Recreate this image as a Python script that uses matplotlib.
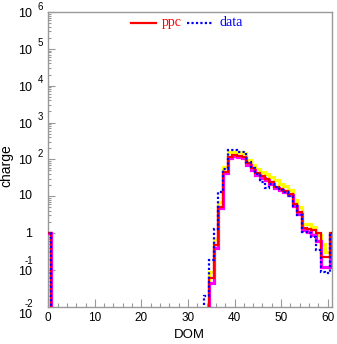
import numpy as np
import matplotlib
matplotlib.use("Agg")
import matplotlib.pyplot as plt
from matplotlib.ticker import FixedLocator, NullFormatter

# DOM number on the string (bins centred on integers)
dom = np.arange(0, 62)

def series(nonzero):
    v = np.zeros(len(dom))
    v[0] = 1.0
    for k, val in nonzero.items():
        v[k] = val
    return v

# ppc simulation (red)
ppc = series({35: 0.06, 36: 0.47, 37: 5.2, 38: 44, 39: 118, 40: 131, 41: 123,
              42: 118, 43: 78, 44: 58, 45: 42, 46: 35, 47: 29, 48: 24, 49: 18,
              50: 16, 51: 14, 52: 11.5, 53: 6.1, 54: 3.7, 55: 1.4, 56: 1.3,
              57: 1.2, 58: 1.0, 59: 0.22, 60: 0.22, 61: 1.0})
# measured data (blue dotted)
data = series({34: 0.02, 35: 0.19, 36: 1.3, 37: 13, 38: 55, 39: 180, 40: 180,
               41: 155, 42: 160, 43: 87, 44: 60, 45: 40, 46: 24, 47: 17, 48: 22,
               49: 18, 50: 15, 51: 13, 52: 10, 53: 5.5, 54: 3.0, 55: 1.1,
               56: 1.0, 57: 0.8, 58: 0.35, 59: 0.085, 60: 0.08, 61: 1.0})
# companion variants (yellow, magenta)
var_y = series({35: 0.09, 36: 0.7, 37: 7, 38: 63, 39: 160, 40: 160, 41: 155,
                42: 150, 43: 95, 44: 72, 45: 55, 46: 46, 47: 40, 48: 33, 49: 27,
                50: 22, 51: 19, 52: 15, 53: 8, 54: 5, 55: 1.8, 56: 1.8, 57: 1.5,
                58: 0.9, 59: 0.5, 60: 0.3, 61: 1.0})
var_m = series({35: 0.045, 36: 0.4, 37: 4.8, 38: 42, 39: 110, 40: 120, 41: 115,
                42: 110, 43: 72, 44: 52, 45: 38, 46: 32, 47: 27, 48: 22, 49: 17,
                50: 15, 51: 13, 52: 10.5, 53: 5.5, 54: 3.3, 55: 1.2, 56: 1.05,
                57: 0.9, 58: 0.6, 59: 0.12, 60: 0.12, 61: 0.9})

y_exponents = [-2, -1, 0, 1, 2, 3, 4, 5, 6]
x_ticks = [0, 10, 20, 30, 40, 50, 60]
legend_labels = ["ppc", "data"]

W, H = 337, 344
fig = plt.figure(figsize=(W / 100, H / 100), dpi=100)
ax = fig.add_axes([48.3 / W, 1 - 306.7 / H, (332.3 - 48.3) / W, (306.7 - 12) / H])

edges = np.append(dom - 0.5, dom[-1] + 0.5)
floor = 1e-9

def draw(v, **kw):
    ax.stairs(np.where(v > 0, v, floor), edges, baseline=None, **kw)

draw(var_y, color="#ffff00", lw=2.3, zorder=2)
draw(var_m, color="#ff00ff", lw=2.3, zorder=3)
draw(ppc, color="#ff0000", lw=1.6, zorder=4)
draw(data, color="#0000ff", lw=1.6, ls=(0, (1, 1)), zorder=5)

ax.set_yscale("log")
ax.set_ylim(1e-2, 1e6)
ax.set_xlim(0, 61)

frame = "#999999"
for s in ax.spines.values():
    s.set_color(frame)
    s.set_linewidth(1.0)

ax.xaxis.set_major_locator(FixedLocator(x_ticks))
ax.xaxis.set_minor_locator(FixedLocator(np.arange(0, 61, 2)))
ax.yaxis.set_major_locator(FixedLocator([10.0 ** e for e in y_exponents]))
minor_y = [m * 10.0 ** e for e in y_exponents[:-1] for m in range(2, 10)]
ax.yaxis.set_minor_locator(FixedLocator(minor_y))
ax.yaxis.set_major_formatter(NullFormatter())
ax.yaxis.set_minor_formatter(NullFormatter())
ax.tick_params(which="both", direction="in", color=frame, width=0.8,
               top=False, right=False)
ax.tick_params(axis="x", which="major", length=6, labelsize=8.5, pad=4)
ax.tick_params(axis="x", which="minor", length=3)
ax.tick_params(axis="y", which="major", length=5)
ax.tick_params(axis="y", which="minor", length=2.5)
for lab in ax.get_xticklabels():
    lab.set_family("Liberation Sans")

sans = "Liberation Sans"
tk = dict(xycoords=("axes fraction", "data"), textcoords="offset pixels",
          family=sans, fontsize=9, va="center")
for e in y_exponents:
    v = 10.0 ** e
    if e == 0:
        ax.annotate("1", xy=(0, v), xytext=(-16, -1), ha="right", **tk)
    elif e == 1:
        ax.annotate("10", xy=(0, v), xytext=(-16, 0), ha="right", **tk)
    elif e > 1:
        ax.annotate("10", xy=(0, v), xytext=(-16, -2), ha="right", **tk)
        ax.annotate(str(e), xy=(0, v), xytext=(-10.5, 5.5), ha="left",
                    **{**tk, "fontsize": 7})
    else:
        dn = -2 if e == -1 else -8
        ax.annotate("10", xy=(0, v), xytext=(-16, dn), ha="right", **tk)
        ax.annotate(str(e), xy=(0, v), xytext=(-15.5, dn + 11), ha="right",
                    **{**tk, "fontsize": 7})

fig.text(189 / W, 1 - 335 / H, "DOM", family=sans, fontsize=9.5,
         ha="center", va="center")
fig.text(6 / W, 1 - 166 / H, "charge", family=sans, fontsize=10,
         rotation=90, ha="center", va="center")

# legend drawn in the ROOT style: coloured sample line + coloured serif text
ly = 1 - 22.7 / H
fig.add_artist(plt.Line2D([130.7 / W, 156 / W], [ly, ly], color="#ff0000", lw=1.6))
fig.text(161.5 / W, ly, legend_labels[0], color="#ff0000", family="Liberation Serif",
         fontsize=10, ha="left", va="center")
fig.add_artist(plt.Line2D([187.3 / W, 213.3 / W], [ly, ly], color="#0000ff", lw=1.6,
                          ls=(0, (1, 1))))
fig.text(219 / W, ly, legend_labels[1], color="#0000ff", family="Liberation Serif",
         fontsize=10, ha="left", va="center")

fig.savefig("out.png", dpi=100)
